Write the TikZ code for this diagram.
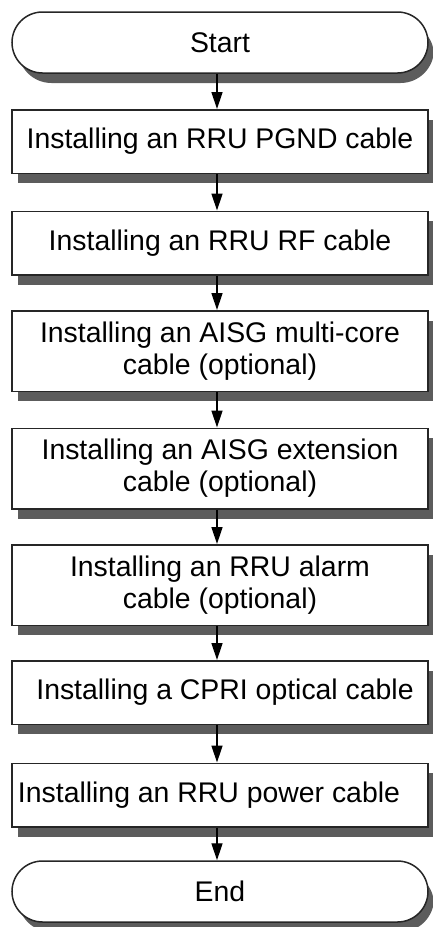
\documentclass[tikz,border=0pt]{standalone}
\usepackage{fontspec}
\setmainfont{Liberation Sans}
\usetikzlibrary{arrows.meta}
\definecolor{shadowgray}{rgb}{0.36,0.36,0.36}
\tikzset{
  stepbox/.style={minimum width=416pt, inner sep=0pt, align=center,
    font=\fontsize{28.4}{32}\selectfont, draw=black!85, line width=1.5pt, fill=white},
  shadowbox/.style={minimum width=410pt, inner sep=0pt, draw=shadowgray, line width=6pt, fill=shadowgray},
  termshape/.style={rounded corners=30.5pt, minimum height=61pt},
  oneshape/.style={minimum height=63.5pt},
  twoshape/.style={minimum height=80.5pt},
  flow/.style={draw=black, line width=1.4pt, -{Triangle[length=17pt,width=11pt]}}
}
\begin{document}
\begin{tikzpicture}
\useasboundingbox (0pt,0pt) rectangle (433pt,-927pt);
\coordinate (ax) at (217pt,0pt);
% shadows (offset 6pt right, 10pt down); stroked as well as filled
\node[shadowbox, termshape, minimum height=55pt] (s0) at (226pt,-52.5pt) {};
\node[shadowbox, minimum height=57.5pt] (s1) at (226pt,-151.5pt) {};
\node[shadowbox, minimum height=57.5pt] (s2) at (226pt,-253pt) {};
\node[shadowbox, minimum height=74.5pt] (s3) at (226pt,-361pt) {};
\node[shadowbox, minimum height=74.5pt] (s4) at (226pt,-478.5pt) {};
\node[shadowbox, minimum height=74.5pt] (s5) at (226pt,-595pt) {};
\node[shadowbox, minimum height=57.5pt] (s6) at (226pt,-702.5pt) {};
\node[shadowbox, minimum height=57.5pt] (s7) at (226pt,-805pt) {};
\node[shadowbox, termshape, minimum height=55pt] (s8) at (226pt,-901.5pt) {};
% steps
\node[stepbox, termshape] (start) at (220pt,-42.5pt) {Start};
\node[stepbox, oneshape] (b1) at (220pt,-141.5pt) {Installing an RRU PGND cable};
\node[stepbox, oneshape] (b2) at (220pt,-243pt) {Installing an RRU RF cable};
\node[stepbox, twoshape] (b3) at (220pt,-351pt) {Installing an AISG multi-core\\cable (optional)};
\node[stepbox, twoshape] (b4) at (220pt,-468.5pt) {Installing an AISG extension\\cable (optional)};
\node[stepbox, twoshape] (b5) at (220pt,-585pt) {Installing an RRU alarm\\cable (optional)};
\node[stepbox, oneshape] (b6) at (220pt,-692.5pt) {\hspace*{10pt}Installing a CPRI optical cable};
\node[stepbox, oneshape] (b7) at (220pt,-795pt) {Installing an RRU power cable\hspace*{22pt}};
\node[stepbox, termshape] (end) at (220pt,-891.5pt) {End};
\foreach \a/\b in {start/b1,b1/b2,b2/b3,b3/b4,b4/b5,b5/b6,b6/b7,b7/end}
  \draw[flow] (\a.south -| ax) -- (\b.north -| ax);
\end{tikzpicture}
\end{document}
